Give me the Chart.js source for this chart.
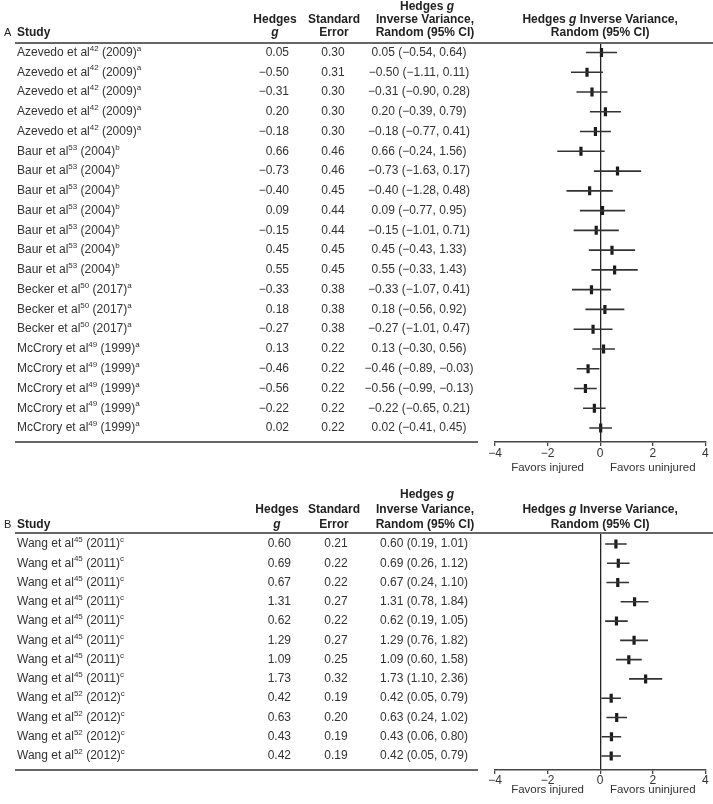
<!DOCTYPE html>
<html>
<head>
<meta charset="utf-8">
<script src="https://cdn.jsdelivr.net/npm/chart.js@4/dist/chart.umd.min.js"></script>
<style>
    body { margin: 0; background: #fff; }
    #wrap { position: relative; width: 713px; height: 804px; }
    canvas { position: absolute; left: 0; }
</style>
</head>
<body>
<div id="wrap">
    <canvas id="panelA" width="713" height="480" style="top:0px"></canvas>
    <canvas id="panelB" width="713" height="324" style="top:480px"></canvas>
</div>
<script>
// Panel A - injured vs uninjured (Azevedo, Baur, Becker, McCrory)
const authorsA = ['Azevedo et al', 'Azevedo et al', 'Azevedo et al', 'Azevedo et al', 'Azevedo et al',
    'Baur et al', 'Baur et al', 'Baur et al', 'Baur et al', 'Baur et al', 'Baur et al', 'Baur et al',
    'Becker et al', 'Becker et al', 'Becker et al',
    'McCrory et al', 'McCrory et al', 'McCrory et al', 'McCrory et al', 'McCrory et al'];
const refsA = ['42', '42', '42', '42', '42', '53', '53', '53', '53', '53', '53', '53',
    '50', '50', '50', '49', '49', '49', '49', '49'];
const yearsA = ['2009', '2009', '2009', '2009', '2009', '2004', '2004', '2004', '2004', '2004', '2004', '2004',
    '2017', '2017', '2017', '1999', '1999', '1999', '1999', '1999'];
const notesA = ['a', 'a', 'a', 'a', 'a', 'b', 'b', 'b', 'b', 'b', 'b', 'b', 'a', 'a', 'a', 'a', 'a', 'a', 'a', 'a'];
const gA = [0.05, -0.50, -0.31, 0.20, -0.18, 0.66, -0.73, -0.40, 0.09, -0.15, 0.45, 0.55,
    -0.33, 0.18, -0.27, 0.13, -0.46, -0.56, -0.22, 0.02];
const seA = [0.30, 0.31, 0.30, 0.30, 0.30, 0.46, 0.46, 0.45, 0.44, 0.44, 0.45, 0.45,
    0.38, 0.38, 0.38, 0.22, 0.22, 0.22, 0.22, 0.22];
const loA = [-0.54, -1.11, -0.90, -0.39, -0.77, -0.24, -1.63, -1.28, -0.77, -1.01, -0.43, -0.33,
    -1.07, -0.56, -1.01, -0.30, -0.89, -0.99, -0.65, -0.41];
const hiA = [0.64, 0.11, 0.28, 0.79, 0.41, 1.56, 0.17, 0.48, 0.95, 0.71, 1.33, 1.43,
    0.41, 0.92, 0.47, 0.56, -0.03, -0.13, 0.21, 0.45];
// the figure plots rows 6 and 7 the other way round
const plotRowA = [0, 1, 2, 3, 4, 6, 5, 7, 8, 9, 10, 11, 12, 13, 14, 15, 16, 17, 18, 19];

// Panel B - Wang et al
const authorsB = ['Wang et al', 'Wang et al', 'Wang et al', 'Wang et al', 'Wang et al', 'Wang et al',
    'Wang et al', 'Wang et al', 'Wang et al', 'Wang et al', 'Wang et al', 'Wang et al'];
const refsB = ['45', '45', '45', '45', '45', '45', '45', '45', '52', '52', '52', '52'];
const yearsB = ['2011', '2011', '2011', '2011', '2011', '2011', '2011', '2011', '2012', '2012', '2012', '2012'];
const notesB = ['c', 'c', 'c', 'c', 'c', 'c', 'c', 'c', 'c', 'c', 'c', 'c'];
const gB = [0.60, 0.69, 0.67, 1.31, 0.62, 1.29, 1.09, 1.73, 0.42, 0.63, 0.43, 0.42];
const seB = [0.21, 0.22, 0.22, 0.27, 0.22, 0.27, 0.25, 0.32, 0.19, 0.20, 0.19, 0.19];
const loB = [0.19, 0.26, 0.24, 0.78, 0.19, 0.76, 0.60, 1.10, 0.05, 0.24, 0.06, 0.05];
const hiB = [1.01, 1.12, 1.10, 1.84, 1.05, 1.82, 1.58, 2.36, 0.79, 1.02, 0.80, 0.79];
const plotRowB = [0, 1, 2, 3, 4, 5, 6, 7, 8, 9, 10, 11];

const xTicks = [-4, -2, 0, 2, 4];

const FONT = '"Liberation Sans", Arial, Helvetica, sans-serif';
const TEXT = '#333';

function fmt(v) {
    return (v < 0 ? '\u2212' : '') + Math.abs(v).toFixed(2);
}

// draw a line of mixed-font text pieces
function drawRuns(ctx, runs, x, y, align) {
    let total = 0;
    runs.forEach(r => {
        ctx.font = r.font;
        r.w = ctx.measureText(r.text).width;
        total += r.w;
    });
    let cx = align === 'center' ? x - total / 2 : align === 'right' ? x - total : x;
    runs.forEach(r => {
        ctx.font = r.font;
        ctx.fillText(r.text, cx, y + (r.dy || 0));
        cx += r.w;
    });
}

function hline(ctx, x1, x2, y, w, color) {
    ctx.save();
    ctx.strokeStyle = color;
    ctx.lineWidth = w;
    ctx.beginPath();
    ctx.moveTo(x1, y);
    ctx.lineTo(x2, y);
    ctx.stroke();
    ctx.restore();
}

function makePanel(cfg) {
    const reg = '12px ' + FONT;
    const bold = 'bold 12px ' + FONT;
    const boldIt = 'italic bold 12px ' + FONT;
    const sup = '8px ' + FONT;

    const tablePlugin = {
        id: 'table' + cfg.label,
        afterDraw(chart) {
            const ctx = chart.ctx;
            const ys = chart.scales.y;
            const xs = chart.scales.x;
            const area = chart.chartArea;
            ctx.save();
            ctx.fillStyle = TEXT;
            ctx.textBaseline = 'middle';
            ctx.textAlign = 'left';

            // header
            const r = cfg.ruleY - cfg.offset;
            const h1 = r - cfg.hy[0], h2 = r - cfg.hy[1], h3 = r - cfg.hy[2];
            ctx.fillStyle = '#222';
            drawRuns(ctx, [{ text: cfg.label, font: '11px ' + FONT }], 4, h3, 'left');
            drawRuns(ctx, [{ text: 'Study', font: bold }], 17, h3, 'left');
            drawRuns(ctx, [{ text: 'Hedges', font: bold }], cfg.colG - 14, h2, 'center');
            drawRuns(ctx, [{ text: 'g', font: boldIt }], cfg.colG - 14, h3, 'center');
            drawRuns(ctx, [{ text: 'Standard', font: bold }], 334, h2, 'center');
            drawRuns(ctx, [{ text: 'Error', font: bold }], 334, h3, 'center');
            drawRuns(ctx, [{ text: 'Hedges ', font: bold }, { text: 'g', font: boldIt }], 427, h1, 'center');
            drawRuns(ctx, [{ text: 'Inverse Variance,', font: bold }], 425, h2, 'center');
            drawRuns(ctx, [{ text: 'Random (95% CI)', font: bold }], 425, h3, 'center');
            const zx = xs.getPixelForValue(0);
            drawRuns(ctx, [{ text: 'Hedges ', font: bold }, { text: 'g', font: boldIt },
                { text: ' Inverse Variance,', font: bold }], zx, h2, 'center');
            drawRuns(ctx, [{ text: 'Random (95% CI)', font: bold }], zx, h3, 'center');
            hline(ctx, 15, 713, r, 2, '#666');

            // rows
            ctx.fillStyle = TEXT;
            cfg.authors.forEach((a, i) => {
                const y = ys.getPixelForValue(i);
                drawRuns(ctx, [
                    { text: a, font: reg },
                    { text: cfg.refs[i], font: sup, dy: -4 },
                    { text: ' (' + cfg.years[i] + ')', font: reg },
                    { text: cfg.notes[i], font: sup, dy: -4 }
                ], 17, y, 'left');
                drawRuns(ctx, [{ text: fmt(cfg.g[i]), font: reg }], cfg.colG, y, 'right');
                drawRuns(ctx, [{ text: fmt(cfg.se[i]), font: reg }], cfg.colSE, y, 'center');
                drawRuns(ctx, [{ text: fmt(cfg.g[i]) + ' (' + fmt(cfg.lo[i]) + ', ' + fmt(cfg.hi[i]) + ')', font: reg }],
                    cfg.colCI, y, 'center');
            });
            hline(ctx, 15, 478, area.bottom, 2, '#666');

            // axis captions
            const fy = area.bottom + cfg.captionGap;
            drawRuns(ctx, [{ text: 'Favors injured', font: '11.5px ' + FONT }], xs.getPixelForValue(-2), fy, 'center');
            drawRuns(ctx, [{ text: 'Favors uninjured', font: '11.5px ' + FONT }], xs.getPixelForValue(2), fy, 'center');
            ctx.restore();
        }
    };

    const ciSets = cfg.order.map((k, i) => ({
        data: [{ x: cfg.lo[k], y: i }, { x: cfg.hi[k], y: i }],
        showLine: true,
        borderColor: '#333',
        borderWidth: 1.6,
        pointRadius: 0
    }));
    const markers = {
        data: cfg.order.map((k, i) => ({ x: cfg.g[k], y: i })),
        pointStyle: 'line',
        rotation: 90,
        radius: 4.5,
        borderWidth: 3.2,
        borderColor: '#1a1a1a',
        backgroundColor: '#1a1a1a'
    };

    const canvas = document.getElementById(cfg.canvas);
    const n = cfg.authors.length;
    const span = (cfg.lastRowY - cfg.firstRowY) / (n - 1);
    const top = cfg.ruleY + 1 - cfg.offset;
    const bottom = cfg.axisY - cfg.offset;

    return new Chart(canvas, {
        type: 'scatter',
        data: { datasets: [...ciSets, markers] },
        options: {
            responsive: false,
            animation: false,
            devicePixelRatio: 1,
            layout: {
                padding: { left: 495, right: 4, top: top, bottom: canvas.height - bottom - 30 }
            },
            plugins: { legend: { display: false }, tooltip: { enabled: false } },
            scales: {
                x: {
                    type: 'linear',
                    min: xTicks[0],
                    max: xTicks[xTicks.length - 1],
                    afterBuildTicks: scale => { scale.ticks = xTicks.map(v => ({ value: v })); },
                    afterFit: scale => { scale.height = 30; },
                    ticks: {
                        color: TEXT,
                        padding: cfg.tickPad,
                        font: { family: FONT, size: 12 },
                        callback: v => v < 0 ? '\u2212' + Math.abs(v) : String(v)
                    },
                    grid: {
                        drawOnChartArea: true,
                        color: c => (c.tick && c.tick.value === 0) ? '#222' : 'rgba(0,0,0,0)',
                        lineWidth: 1.3,
                        tickLength: 4,
                        tickColor: '#444',
                        tickWidth: 1.3
                    },
                    border: { display: true, color: '#444', width: 1.6 }
                },
                y: {
                    type: 'linear',
                    display: false,
                    reverse: true,
                    min: -(cfg.firstRowY - (cfg.ruleY + 1)) / span,
                    max: (n - 1) + (cfg.axisY - cfg.lastRowY) / span
                }
            }
        },
        plugins: [tablePlugin]
    });
}

makePanel({
    canvas: 'panelA', label: 'A', offset: 0,
    authors: authorsA, refs: refsA, years: yearsA, notes: notesA,
    g: gA, se: seA, lo: loA, hi: hiA, order: plotRowA,
    ruleY: 43, firstRowY: 52.5, lastRowY: 428, axisY: 442,
    hy: [36, 23, 10], tickPad: 0, captionGap: 26,
    colG: 289, colSE: 333, colCI: 419
});

makePanel({
    canvas: 'panelB', label: 'B', offset: 480,
    authors: authorsB, refs: refsB, years: yearsB, notes: notesB,
    g: gB, se: seB, lo: loB, hi: hiB, order: plotRowB,
    ruleY: 533, firstRowY: 544, lastRowY: 756, axisY: 770,
    hy: [38, 23, 8], tickPad: -1, captionGap: 20,
    colG: 291, colSE: 336, colCI: 424
});
</script>
</body>
</html>
